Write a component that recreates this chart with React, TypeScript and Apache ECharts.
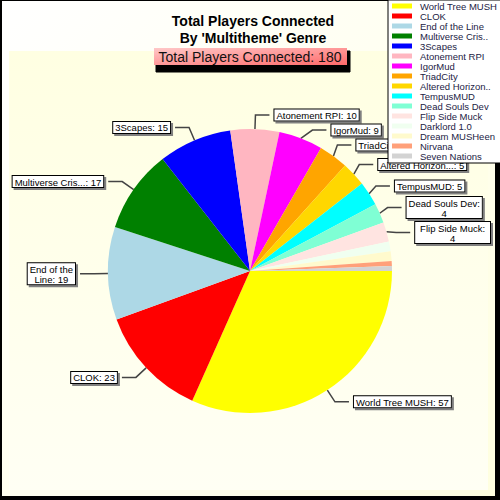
import React, { useEffect, useRef } from "react";
import * as echarts from "echarts";

const names = [
  "World Tree MUSH", "CLOK", "End of the Line", "Multiverse Cris..", "3Scapes",
  "Atonement RPI", "IgorMud", "TriadCity", "Altered Horizon..", "TempusMUD",
  "Dead Souls Dev", "Flip Side Muck", "Darklord 1.0", "Dream MUSHeen", "Nirvana", "Seven Nations",
];
const values = [57, 23, 19, 17, 15, 10, 9, 6, 5, 5, 4, 4, 2, 2, 1, 1];
const colors = [
  "#FFFF00", "#FF0000", "#ADD8E6", "#008000", "#0000FF",
  "#FFB6C1", "#FF00FF", "#FFA500", "#FFD700", "#00FFFF",
  "#7FFFD4", "#FFE4E1", "#F0FFF0", "#FFFACD", "#FFA07A", "#D3D3D3",
];
const labelFormats = [
  "World Tree MUSH: {v}", "CLOK: {v}", "End of the\nLine: {v}", "Multiverse Cris...: {v}", "3Scapes: {v}",
  "Atonement RPI: {v}", "IgorMud: {v}", "TriadCity: {v}", "Altered Horizon...: {v}", "TempusMUD: {v}",
  "Dead Souls Dev:\n{v}", "Flip Side Muck:\n{v}", "", "", "", "",
];
const titleText = "Total Players Connected\nBy 'Multitheme' Genre";
const subtitleText = "Total Players Connected: 180";

const FONT = "'Liberation Sans', Arial, sans-serif";

export default function App() {
  const ref = useRef<HTMLDivElement>(null);
  useEffect(() => {
    if (!ref.current) return;
    const chart = echarts.init(ref.current, null, { renderer: "svg" });
    const data = names.map((n, i) => {
      const show = labelFormats[i] !== "";
      return {
        name: n,
        value: values[i],
        itemStyle: { color: colors[i] },
        label: { show },
        labelLine: { show },
      };
    });
    chart.setOption({
      animation: false,
      backgroundColor: "transparent",
      graphic: {
        elements: [
          { type: "rect", z: -10, shape: { x: 0, y: 0, width: 500, height: 500 }, style: { fill: "#000" } },
          {
            type: "rect", z: -9, shape: { x: 2, y: 1, width: 493, height: 495 },
            style: {
              fill: new echarts.graphic.LinearGradient(0, 0, 1, 1, [
                { offset: 0, color: "#FFFFFF" },
                { offset: 1, color: "#FFFFE0" },
              ]),
            },
          },
          {
            type: "rect", z: -8, shape: { x: 9, y: 51, width: 479, height: 439 },
            style: {
              fill: new echarts.graphic.LinearGradient(0, 0, 0, 1, [
                { offset: 0, color: "#FFFFE2" },
                { offset: 1, color: "#FFFFF4" },
              ]),
            },
          },
          {
            type: "group",
            z: 20,
            children: [
              { type: "rect", z: 20, shape: { x: 156, y: 51, width: 194, height: 21 }, style: { fill: "#000000", stroke: "#000000" } },
              {
                type: "rect", z: 21, shape: { x: 154, y: 48, width: 193, height: 17 },
                style: {
                  fill: new echarts.graphic.LinearGradient(0, 0, 1, 1, [
                    { offset: 0, color: "#FFC8C8" },
                    { offset: 1, color: "#FF6A6A" },
                  ]),
                },
              },
              {
                type: "text", z: 22, x: 250, y: 57,
                style: { text: subtitleText, font: `14px ${FONT}`, fill: "#111", align: "center", verticalAlign: "middle" },
              },
            ],
          },
        ],
      },
      title: {
        text: titleText,
        left: 248,
        top: 7,
        textAlign: "center",
        textStyle: {
          fontFamily: FONT, fontSize: 14, fontWeight: "bold", lineHeight: 17, color: "#000",
          textShadowColor: "#7a7ab0", textShadowOffsetX: 1, textShadowOffsetY: 1, textShadowBlur: 0,
        },
      },
      legend: {
        orient: "vertical",
        left: 388,
        top: 0,
        padding: [1, 6, 2, 4],
        itemGap: 0,
        itemWidth: 20,
        itemHeight: 5,
        icon: "rect",
        backgroundColor: "#FFFFFF",
        borderColor: "#000",
        borderWidth: 1,
        z: 10,
        data: names,
        textStyle: { fontFamily: FONT, fontSize: 9.5, lineHeight: 10, color: "#222244", padding: [0, 0, 0, 3] },
      },
      series: [
        {
          type: "pie",
          center: [250, 271],
          radius: 142,
          startAngle: 0,
          clockwise: true,
          avoidLabelOverlap: true,
          itemStyle: { borderWidth: 0 },
          emphasis: { disabled: true },
          label: {
            formatter: (p: any) =>
              labelFormats[p.dataIndex]
                .replace("{v}", String(values[p.dataIndex]))
                .split("\n")
                .map((s) => `{c|${s}}`)
                .join("\n"),
            rich: {
              c: { align: "center", fontFamily: FONT, fontSize: 9.5, lineHeight: 10, color: "#000" },
            },
            fontFamily: FONT,
            fontSize: 9.5,
            lineHeight: 10,
            color: "#000",
            backgroundColor: "#FFFFFF",
            borderColor: "#000",
            borderWidth: 1,
            padding: [1, 2, 0, 2],
            shadowColor: "#808080",
            shadowOffsetX: 2,
            shadowOffsetY: 2,
            shadowBlur: 0,
          },
          labelLine: {
            length: 14,
            length2: 14,
            lineStyle: { color: "#444", width: 1.5 },
          },
          data,
        },
      ],
    });
    return () => chart.dispose();
  }, []);
  return <div ref={ref} style={{ position: "absolute", left: 0, top: 0, width: 500, height: 500 }} />;
}
